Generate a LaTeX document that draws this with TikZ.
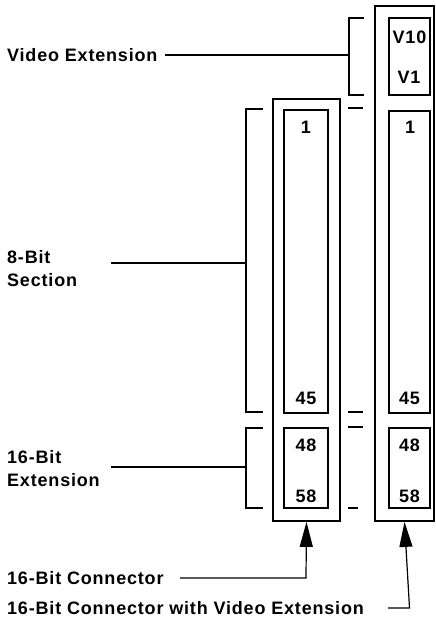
\documentclass[tikz,border=0pt]{standalone}
\usepackage{fontspec}
\setmainfont{Liberation Sans}[LetterSpace=4.5]
\usetikzlibrary{arrows.meta}
\begin{document}
\begin{tikzpicture}[x=1pt,y=-1pt,
  outerbox/.style={draw,line width=1.8pt,minimum width=#1,inner sep=0pt},
  pinbox/.style={draw,line width=1.4pt,inner sep=0pt},
  lbl/.style={inner sep=0pt,font=\fontsize{18}{23}\selectfont\bfseries},
  txt/.style={inner sep=0pt,anchor=west,align=left,font=\fontsize{18}{23}\selectfont\bfseries},
  brk/.style={line width=1.4pt},
  lead/.style={line width=1.2pt},
  arr/.style={line width=1.2pt,-{Triangle[length=25pt,width=13pt]}}]
\useasboundingbox (0,0) rectangle (436,629);
% left connector
\node[outerbox=67pt,minimum height=422pt] (lo) at (306.5,310) {};
\node[pinbox,minimum width=44pt,minimum height=303pt] (la) at (306,261.5) {};
\node[pinbox,minimum width=44pt,minimum height=80pt] (lb) at (306,468) {};
% right connector
\node[outerbox=59pt,minimum height=515pt] (ro) at (404.5,263.5) {};
\node[pinbox,minimum width=41pt,minimum height=77pt] (rv) at (409.5,56.5) {};
\node[pinbox,minimum width=41pt,minimum height=302pt] (ra) at (409.5,262) {};
\node[pinbox,minimum width=41pt,minimum height=80pt] (rb) at (409.5,468) {};
% pin numbers
\node[lbl] (n1l) at (306,127) {1};
\node[lbl] (n45l) at (306,398.5) {45};
\node[lbl] (n48l) at (306,445) {48};
\node[lbl] (n58l) at (306,496) {58};
\node[lbl] (v10) at (409.5,37) {V10};
\node[lbl] (v1) at (409,77) {V1};
\node[lbl] (n1r) at (410,127) {1};
\node[lbl] (n45r) at (409.5,398.5) {45};
\node[lbl] (n48r) at (409.5,445) {48};
\node[lbl] (n58r) at (409.5,496) {58};
% labels
\node[txt] (tve) at (7,55) {Video Extension};
\node[txt] (t8) at (7,268.5) {8-Bit\\Section};
\node[txt] (t16) at (7,469) {16-Bit\\Extension};
\node[txt] (tc) at (7,578) {16-Bit Connector};
\node[txt] (tcv) at (7,608) {16-Bit Connector with Video Extension};
% brackets
\draw[brk] (364,18) -- (349,18) -- (349,95) -- (364,95);
\draw[brk] (263,109) -- (246,109) -- (246,412) -- (263,412);
\draw[brk] (263,428) -- (246,428) -- (246,508) -- (263,508);
\draw[brk] (348,108) -- (363,108);
\draw[brk] (348,412) -- (363,412);
\draw[brk] (348,427) -- (363,427);
\draw[brk] (348,508) -- (358,508);
% leaders
\coordinate (cve) at (165,55);
\coordinate (c8) at (111,263);
\coordinate (c16) at (111,467);
\draw[lead] (cve) -- (349,55);
\draw[lead] (c8) -- (246,263);
\draw[lead] (c16) -- (246,467);
\coordinate (cc) at (180,578);
\coordinate (ccv) at (388,608);
\draw[arr] (cc) -- (cc -| lb) -- (lo.south);
\draw[arr] (ccv) -- (ccv -| rb) -- (ro.south);
\end{tikzpicture}
\end{document}
